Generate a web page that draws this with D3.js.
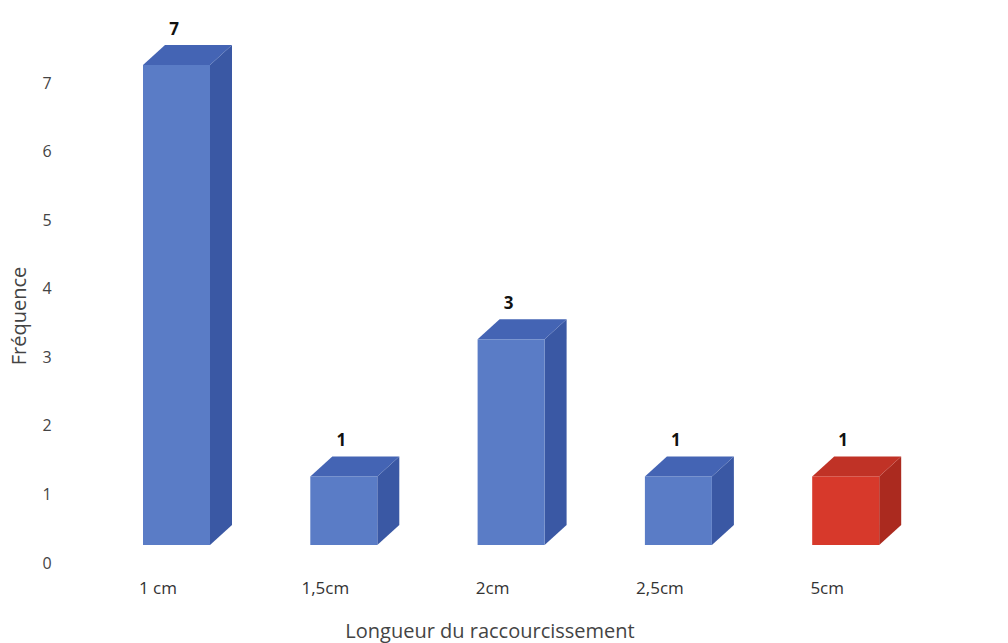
<!DOCTYPE html>
<html>
<head>
<meta charset="utf-8">
<script src="https://cdn.jsdelivr.net/npm/d3@7"></script>
<style>
  html, body { margin: 0; padding: 0; background: #fff; }
  svg { display: block; }
  text { font-family: "Open Sans", "Noto Sans", sans-serif; }
</style>
</head>
<body>
<svg id="chart" width="1008" height="643"></svg>
<script>
// Shortening lengths and their frequencies
const categories = ["1 cm", "1,5cm", "2cm", "2,5cm", "5cm"];
const frequencies = [7, 1, 3, 1, 1];
const highlighted = ["5cm"];
const yTicks = [0, 1, 2, 3, 4, 5, 6, 7];

const svg = d3.select("#chart");

// Front-face geometry of the 3D columns
const x = d3.scaleBand()
  .domain(categories)
  .range([143, 143 + 167.3 * categories.length])
  .paddingInner(0)
  .paddingOuter(0);
const faceW = 67;
const depthX = 22, depthY = 20;

const y = d3.scaleLinear().domain([0, 7]).range([545, 65]);
const tickShift = 18; // value labels sit on the back wall, below the front baseline

const palette = {
  normal: { front: "#5a7cc6", side: "#3a58a4", top: "#4464b4" },
  accent: { front: "#d7392b", side: "#ab2a1f", top: "#c03226" }
};

// Y tick labels (no axis line)
const yAxis = d3.axisLeft(d3.scaleLinear().domain([0, 7]).range([y(0) + tickShift, y(7) + tickShift]))
  .tickValues(yTicks).tickFormat(d3.format("d")).tickSize(0).tickPadding(0);
const gy = svg.append("g").attr("transform", "translate(52,0)").call(yAxis);
gy.select(".domain").remove();
gy.selectAll("text")
  .attr("font-size", 16).attr("fill", "#444")
  .attr("text-anchor", "middle").attr("dx", -5)
  .style("font-family", "'Open Sans', sans-serif");

// Category labels
const xAxis = d3.axisBottom(x).tickSize(0).tickPadding(0);
const gx = svg.append("g").attr("transform", "translate(0,582)").call(xAxis);
gx.select(".domain").remove();
gx.selectAll(".tick").attr("transform", d => `translate(${x(d) + 15},0)`);
gx.selectAll("text")
  .attr("font-size", 17).attr("fill", "#333")
  .attr("y", 0).attr("dy", "0.71em")
  .style("font-family", "'Open Sans', sans-serif");

// Columns
const bars = svg.append("g").selectAll("g.bar")
  .data(categories.map((c, i) => ({ c, v: frequencies[i] })))
  .join("g").attr("class", "bar");

bars.each(function(d) {
  const g = d3.select(this);
  const col = highlighted.includes(d.c) ? palette.accent : palette.normal;
  const l = x(d.c), r = l + faceW, t = y(d.v), b = y(0);
  g.append("polygon")
    .attr("points", [[r, t], [r + depthX, t - depthY], [r + depthX, b - depthY], [r, b]].join(" "))
    .attr("fill", col.side);
  g.append("polygon")
    .attr("points", [[l, t], [l + depthX, t - depthY], [r + depthX, t - depthY], [r, t]].join(" "))
    .attr("fill", col.top);
  g.append("rect")
    .attr("x", l).attr("y", t).attr("width", faceW).attr("height", b - t)
    .attr("fill", col.front);
  g.append("text")
    .attr("x", l + 31).attr("y", t - 30)
    .attr("text-anchor", "middle")
    .attr("font-size", 17).attr("font-weight", 700).attr("fill", "#111")
    .text(d.v);
});

// Axis titles
svg.append("text")
  .attr("transform", "translate(26,316) rotate(-90)")
  .attr("text-anchor", "middle")
  .attr("font-size", 20).attr("fill", "#444")
  .text("Fréquence");

svg.append("text")
  .attr("x", 490).attr("y", 638)
  .attr("text-anchor", "middle")
  .attr("font-size", 20).attr("fill", "#444")
  .text("Longueur du raccourcissement");
</script>
</body>
</html>
